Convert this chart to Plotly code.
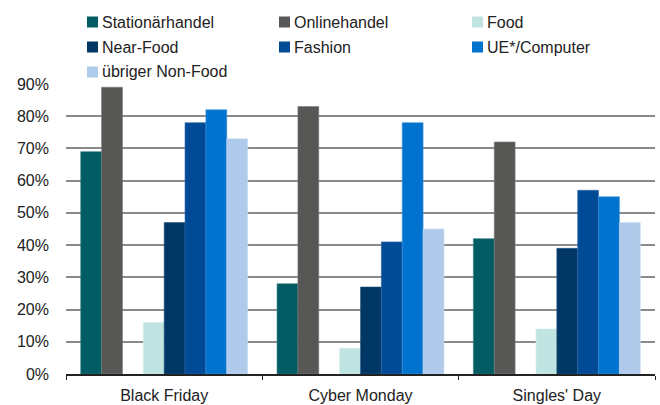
import plotly.graph_objects as go

# Anteil der Befragten je Aktionstag und Handelsbereich (in %)
tage = ["Black Friday", "Cyber Monday", "Singles' Day"]

stationaerhandel = [69, 28, 42]
onlinehandel = [89, 83, 72]
food = [16, 8, 14]
near_food = [47, 27, 39]
fashion = [78, 41, 57]
ue_computer = [82, 78, 55]
uebriger_non_food = [73, 45, 47]

y_ticks = [0, 10, 20, 30, 40, 50, 60, 70, 80, 90]
y_tick_labels = [f"{v}%" for v in y_ticks]

serien = [
    ("Stationärhandel", stationaerhandel, "#025C63", "#2f7a80"),
    ("Onlinehandel", onlinehandel, "#575756", "#7a7a79"),
    (None, None, None, None),  # leerer Platz zwischen Kanälen und Sortimenten
    ("Food", food, "#BFE4E1", "#d6efed"),
    ("Near-Food", near_food, "#003764", "#2a5882"),
    ("Fashion", fashion, "#004A96", "#2c6aab"),
    ("UE*/Computer", ue_computer, "#0073CF", "#3a92dc"),
    ("übriger Non-Food", uebriger_non_food, "#AFCAEA", "#c6daf1"),
]

W, H = 660, 405
M_L, M_R, M_T, M_B = 66, 5, 84, 31
plot_w = W - M_L - M_R
plot_h = H - M_T - M_B


def px_x(px):
    return (px - M_L) / plot_w


def px_y(py):
    return (H - M_B - py) / plot_h


fig = go.Figure()
for name, werte, farbe, rand in serien:
    if name is None:
        fig.add_trace(go.Bar(x=tage, y=[None] * len(tage), showlegend=False,
                             hoverinfo="skip", marker_color="rgba(0,0,0,0)"))
        continue
    fig.add_trace(go.Bar(
        x=tage, y=werte, name=name, showlegend=False,
        marker=dict(color=farbe, line=dict(color=rand, width=0.6)),
    ))

# Legende in drei Spalten über dem Diagramm
legend_cols = [87, 279, 472]
legend_rows = [22, 47, 72]
eintraege = [s for s in serien if s[0] is not None]
shapes, annotations = [], []
for i, (name, _, farbe, _) in enumerate(eintraege):
    cx = legend_cols[i % 3]
    cy = legend_rows[i // 3]
    shapes.append(dict(
        type="rect", xref="paper", yref="paper",
        x0=px_x(cx), x1=px_x(cx + 11), y0=px_y(cy + 5.5), y1=px_y(cy - 5.5),
        fillcolor=farbe, line=dict(width=0),
    ))
    annotations.append(dict(
        text=name, xref="paper", yref="paper",
        x=px_x(cx + 13), y=px_y(cy), xanchor="left", yanchor="middle",
        showarrow=False, font=dict(size=16, color="#222222"),
    ))

fig.update_layout(
    width=W, height=H,
    margin=dict(l=M_L, r=M_R, t=M_T, b=M_B),
    paper_bgcolor="white", plot_bgcolor="white",
    font=dict(family="Liberation Sans, Arial, sans-serif", size=16, color="#222222"),
    barmode="group", bargap=0.15, bargroupgap=0,
    showlegend=False,
    shapes=shapes, annotations=annotations,
    xaxis=dict(
        showline=True, linecolor="#222222", linewidth=1.5,
        ticks="outside", tickson="boundaries", ticklen=4, tickcolor="#222222",
        showgrid=False, tickfont=dict(size=16), ticklabelstandoff=6,
        automargin=False,
    ),
    yaxis=dict(
        range=[0, 90], tickvals=y_ticks, ticktext=y_tick_labels,
        showgrid=True, gridcolor="#8a8a8a", gridwidth=1.5,
        zeroline=False, showline=False, ticks="", ticklabelstandoff=16,
        tickfont=dict(size=16), automargin=False,
    ),
)

fig.write_html("out.html")
